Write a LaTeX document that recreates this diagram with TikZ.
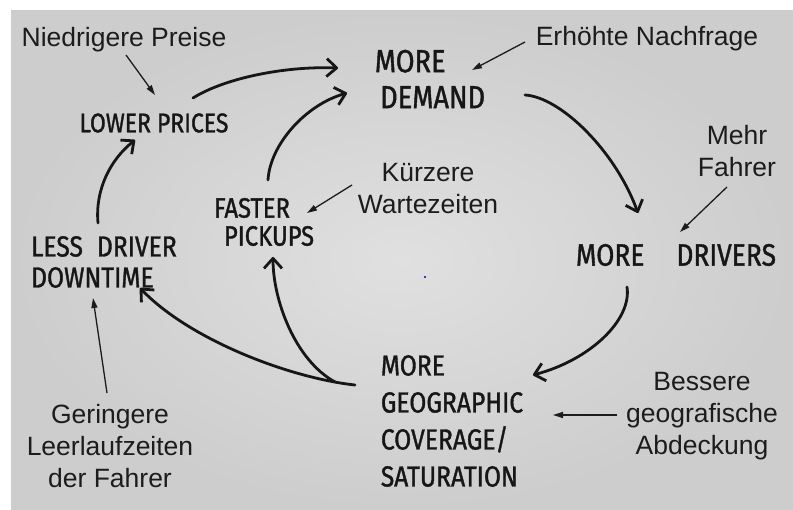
\documentclass[tikz,border=0pt]{standalone}
\usepackage{fontspec}
\setmainfont{Liberation Sans}
\newfontfamily\handfont[FakeStretch=0.85,FakeBold=1.2]{Fira Sans}
\usetikzlibrary{arrows.meta,calc}
\definecolor{paperlight}{RGB}{224,224,224}
\definecolor{paperdark}{RGB}{205,205,205}
\definecolor{ink}{RGB}{22,22,22}
\definecolor{txt}{RGB}{28,28,28}
\begin{document}
\begin{tikzpicture}[x=1pt,y=-1pt,
  hand/.style={font=\handfont\fontsize{29}{36}\selectfont, text=ink, inner sep=0pt, align=left},
  lab/.style={font=\fontsize{26.5}{32}\selectfont, text=txt, inner sep=0pt, align=center},
  loop/.style={draw=ink, line width=2.8pt, line cap=round, -{Straight Barb[length=10pt,width=18pt,line join=round]}},
  pointer/.style={draw=txt, line width=1.3pt, -{Triangle[length=10pt,width=6pt]}}
]
\useasboundingbox (0,0) rectangle (793,510);
\fill[white] (0,0) rectangle (793,510);
\shade[inner color=paperlight, outer color=paperdark] (11,11) rectangle (793,510);

% handwritten nodes
\node[hand, font=\handfont\fontsize{27}{34}\selectfont] (lp) at (154,123) {LOWER PRICES};
\node[hand, font=\handfont\fontsize{32}{36}\selectfont] (md) at (430,79) {MORE\\\,DEMAND};
\node[hand, font=\handfont\fontsize{31}{36}\selectfont] (dr) at (676,255) {MORE\hspace{32pt}DRIVERS};
\node[hand, font=\handfont\fontsize{29}{37}\selectfont] (mg) at (452,421) {MORE\\GEOGRAPHIC\\COVERAGE/\\SATURATION};
\node[hand, font=\handfont\fontsize{28}{28}\selectfont] (fp) at (264,222) {FASTER\\\hspace{10pt}PICKUPS};
\node[hand, font=\handfont\fontsize{29}{31}\selectfont] (ld) at (104,262) {LESS\hspace{14pt}DRIVER\\DOWNTIME};

% typed labels
\node[lab] (np) at (124,40) {Niedrigere Preise};
\node[lab] (en) at (647,39) {Erhöhte Nachfrage};
\node[lab] (mf) at (737,151) {Mehr\\Fahrer};
\node[lab] (kw) at (428,189) {Kürzere\\Wartezeiten};
\node[lab] (bg) at (702,416) {Bessere\\geografische\\Abdeckung};
\node[lab] (gl) at (110,446) {Geringere\\Leerlaufzeiten\\der Fahrer};

% label pointers
\draw[pointer] ($(np.center)+(2,15)$) -- ($(lp.center)+(1,-28)$);
\draw[pointer] ($(en.center)+(-122,3)$) -- ($(md.center)+(42,-9)$);
\draw[pointer] ($(mf.center)+(-10,36)$) -- ($(dr.center)+(4,-23)$);
\draw[pointer] ($(kw.center)+(-76,-4)$) -- ($(fp.center)+(43,-9)$);
\draw[pointer] ($(bg.center)+(-85,-1)$) -- ($(mg.center)+(101,-6)$);
\draw[pointer] ($(gl.center)+(-3,-53)$) -- ($(ld.center)+(-11,36)$);

% loop arrows
\draw[loop] ($(lp.center)+(39,-25)$) .. controls (225,78) and (285,66) .. ($(md.center)+(-92,-11)$);
\draw[loop] ($(fp.center)+(4,-42)$) .. controls (270,145) and (305,105) .. ($(md.center)+(-83,14)$);
\draw[loop] ($(md.center)+(95,16)$) .. controls (560,97) and (615,150) .. ($(dr.center)+(-38,-42)$);
\draw[loop] ($(dr.center)+(-49,32)$) .. controls (632,320) and (590,360) .. ($(mg.center)+(81,-46)$);
\draw[loop] ($(mg.center)+(-97,-36)$) .. controls (290,378) and (190,340) .. ($(ld.center)+(36,26)$);
\draw[loop] ($(mg.center)+(-117,-39)$) .. controls (295,360) and (273,300) .. ($(fp.center)+(9,35)$);
\draw[loop] ($(ld.center)+(-6,-39)$) .. controls (95,190) and (110,160) .. ($(lp.center)+(-19,17)$);

% small blue speck
\fill[blue!70!black] (425,277) circle (1.2pt);
\end{tikzpicture}
\end{document}
